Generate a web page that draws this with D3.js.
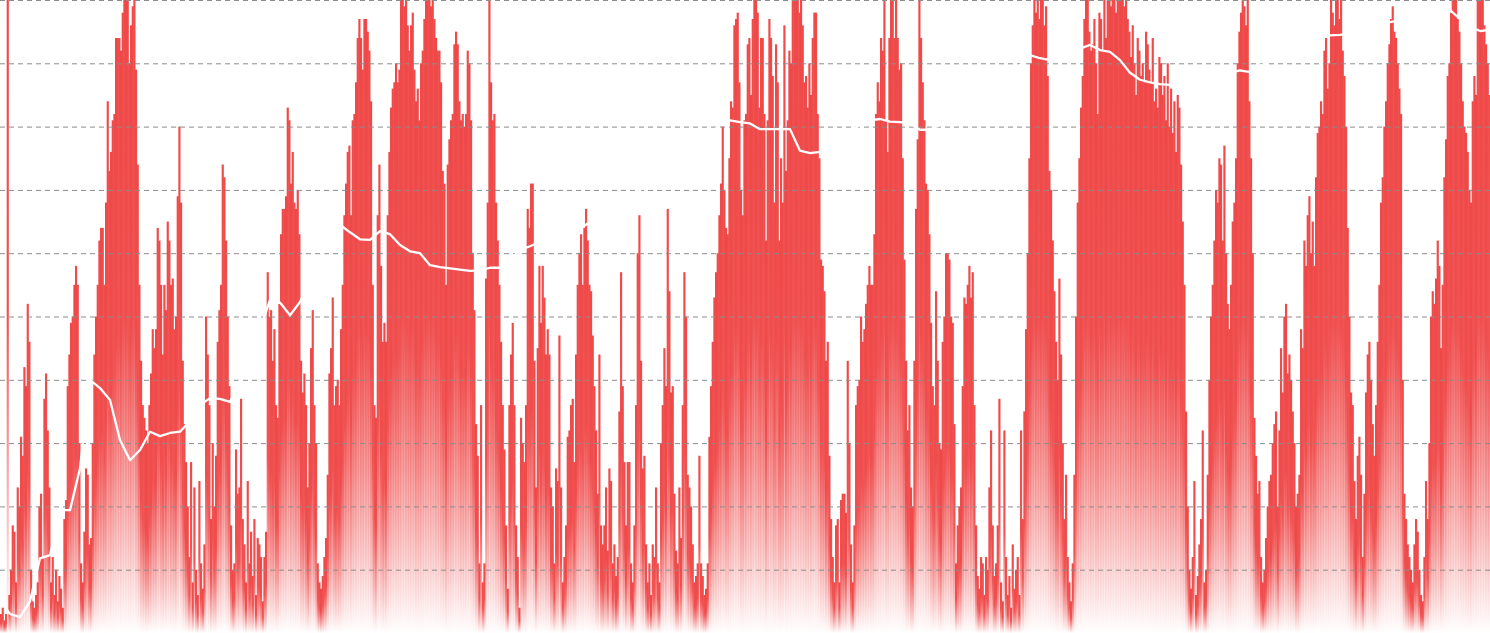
<!DOCTYPE html>
<html>
<head>
<meta charset="utf-8">
<script src="https://cdn.jsdelivr.net/npm/d3@7/dist/d3.min.js"></script>
<style>
  html, body { margin: 0; padding: 0; background: #ffffff; overflow: hidden; }
  svg { display: block; }
</style>
</head>
<body>
<svg id="chart" width="1490" height="633"></svg>
<script>
// ---- Data ----
// Bar series (0..100 units, 10 units per gridline)
const barsPart1 = [
  3,4,2,3,100,6,10,17,16,8,
  23,20,31,28,42,39,52,46,10,5,
  4,6,8,20,22,12,37,41,32,23,
  8,12,6,10,5,9,7,4,18,21,
  39,44,49,50,55,58,55,30,11,8,
  16,26,25,14,15,30,44,50,55,62,
  64,64,55,68,84,73,76,81,82,94,
  94,94,92,98,100,100,100,90,96,99,
  100,89,74,55,43,36,34,32,30,36,
  41,48,45,48,64,62,55,44,55,51,
  65,62,55,56,48,50,69,80,68,43,
  33,27,20,12,27,8,23,10,6,24,
  11,7,14,50,44,36,18,30,20,28,
  46,51,55,74,72,62,50,39,17,10,
  11,29,22,23,37,18,14,8,24,11,
  16,9,18,6,15,14,12,5,12,16,
  57,50,51,43,48,36,34,52,63,67,
  67,69,83,81,71,76,68,67,70,63,
  43,38,41,36,23,30,45,51,36,30,
  11,8,7,9,12,15,25,41,45,53,
  36,39,40,36,48,55,66,71,76,77,
  66,81,82,87,94,97,94,89,97,97,
  95,92,84,55,36,34,66,74,58,46,
  49,46,66,76,83,86,87,90,87,89,
  100,100,99,100,96,92,96,98,89,84,
  86,81,90,92,97,100,100,100,99,100,
  97,94,92,92,87,73,71,55,74,78,
  81,82,93,95,93,84,81,82,80,82,
  92,90,81,60,51,33,28,11,36,8,
  11,56,68,100,87,81,82,68,62,55
];
const barsPart2 = [
  46,36,29,17,7,36,44,49,36,17,
  12,4,34,30,27,36,67,64,71,71,
  43,23,45,58,49,58,53,44,48,44,
  23,20,11,26,24,47,23,8,12,17,
  31,32,36,37,27,44,55,60,63,55,
  64,67,62,55,54,47,39,32,22,44,
  17,14,17,23,13,26,24,11,14,9,
  12,35,57,39,27,17,27,27,11,8,
  17,36,60,66,43,26,28,14,8,11,
  6,14,12,23,11,8,30,36,45,39,
  67,54,38,39,22,13,11,23,15,36,
  57,50,25,23,20,14,8,9,11,28,
  11,9,6,7,11,31,39,46,53,57,
  60,66,71,80,70,64,63,75,84,83,
  96,97,98,87,70,66,81,82,93,94,
  85,97,100,100,98,83,94,94,82,62,
  81,97,94,88,68,93,87,62,75,68,
  96,73,81,92,90,100,100,100,100,98,
  100,96,87,88,83,90,85,94,98,98,
  82,75,59,58,54,43,46,28,18,12,
  8,17,18,8,21,22,22,19,43,30,
  14,8,17,36,39,40,50,46,48,52,
  55,58,55,55,63,82,87,84,94,92,
  100,81,76,94,100,100,94,100,94,89,
  90,75,59,43,32,36,23,20,43,67,
  78,100,94,87,81,71,70,63,49,39,
  36,54,43,30,29,46,50,60,60,59,
  50,49,33,11,17,20,23,39,53,52,
  55,58,53,57,36,17,9,7,12,11,
  6,12,10,23,32,17,9,11,17,37
];
const barsPart3 = [
  8,5,32,12,6,9,4,14,7,10,
  12,6,32,18,35,48,60,75,90,96,
  100,98,100,97,100,100,96,99,88,73,
  70,62,54,46,40,56,44,30,18,25,
  12,8,5,11,25,50,68,75,83,88,
  97,100,100,95,92,93,97,90,82,98,
  97,92,100,94,100,100,99,100,100,98,
  100,100,100,100,99,100,97,95,91,96,
  90,85,94,92,88,90,87,95,93,89,
  87,94,84,86,83,91,90,85,88,81,
  90,80,86,79,84,76,85,83,74,65,
  55,35,20,10,7,12,24,6,9,14,
  18,32,8,10,25,40,50,55,62,70,
  68,75,74,62,77,60,52,48,55,65,
  68,75,90,95,98,100,99,96,100,84,
  75,60,34,28,22,24,12,8,10,15,
  20,24,25,30,33,35,20,32,45,38,
  50,52,41,44,40,35,30,20,22,25,
  48,45,62,58,66,69,60,65,58,72,
  79,80,84,82,92,94,86,90,100,98,
  96,100,100,97,100,92,88,80,64,50,
  38,36,24,18,28,31,25,12,22,38,
  44,46,40,33,28,36,46,55,68,72,
  80,84,90,93,97,99,95,94,90,86,
  82,40,22,18,14,12,10,8,14,18,
  16,10,6,5,12,24,18,30,50,54,
  52,56,62,58,45,55,72,78,88,90,
  98,100,100,100,97,95,90,84,80,79,
  76,70,68,84,88,85,100,100,100,100,
  96,93,90,85
];
const barValues = barsPart1.concat(barsPart2, barsPart3);

// White line series, one point every `lineEvery` bars
const lineEvery = 6;
const lineValues = [
  5.2,3.0,2.5,5.0,11.8,12.3,19.4,19.4,26,40,
  38.7,36.8,30.5,27.3,28.9,31.8,31.1,31.6,31.8,33.5,
  36,37.1,37,36.5,40,45,48,52.6,52.2,50.2,
  52.3,55.8,59,62,64.5,63.3,62.2,62.1,63.5,63,
  61.3,60.3,60,58.1,57.8,57.6,57.4,57.2,57.3,57.7,
  57.7,59,60.5,61.1,61.8,62.5,62.9,63.4,63.8,65,
  66,67,68.4,69.2,70,71.2,72.4,73.5,74.7,76,
  77.1,78.5,80.5,81,80.7,80.5,79.6,79.6,79.6,79.6,
  76.2,75.8,76,77.1,78.2,79.2,80.3,81,81.2,80.8,
  80.7,80.5,79.5,79.5,80.3,81.5,82.6,83.8,85,86.2,
  87.4,88.5,89.7,91.3,90.8,90.5,90.5,91.5,92.3,92.9,
  92.1,91.8,90.5,88.5,87.4,87,86.7,86.6,85.8,86,
  86.5,87,87.8,88.5,88.9,88.6,89.5,90.5,91.3,92.1,
  92.8,93.4,94,94.4,94.5,94.7,95.3,95.7,96.1,96.5,
  96.8,97.2,97.6,98,98.4,98.4,97,95.8,95.1,95.3
];

const gridTicks = [10,20,30,40,50,60,70,80,90,100];

// ---- Chart ----
const W = 1490, H = 633;
const svg = d3.select("#chart");

const x = d3.scaleBand()
  .domain(d3.range(barValues.length))
  .range([0, W])
  .padding(0);

const y = d3.scaleLinear().domain([0, 100]).range([H, 0]);
const yLine = d3.scaleLinear().domain([0, 100]).range([H, 0]);
const xLine = d3.scaleLinear().domain([0, barValues.length]).range([0, W]);

const defs = svg.append("defs");
const grad = defs.append("linearGradient")
  .attr("id", "barGrad")
  .attr("x1", 0).attr("y1", 0).attr("x2", 0).attr("y2", 1);
grad.append("stop").attr("offset", "0%").attr("stop-color", "#ef4444").attr("stop-opacity", 0.97);
grad.append("stop").attr("offset", "50%").attr("stop-color", "#ef4444").attr("stop-opacity", 0.92);
grad.append("stop").attr("offset", "100%").attr("stop-color", "#ef4444").attr("stop-opacity", 0.0);

svg.append("g")
  .selectAll("rect")
  .data(barValues)
  .join("rect")
  .attr("x", (d, i) => x(i))
  .attr("y", d => y(d))
  .attr("width", x.bandwidth() + 0.5)
  .attr("height", d => H - y(d))
  .attr("fill", "url(#barGrad)");

// dashed gridlines
const grid = svg.append("g")
  .attr("class", "grid")
  .call(d3.axisLeft(y).tickValues(gridTicks).tickSize(-W).tickFormat(""));
grid.select(".domain").remove();
grid.selectAll(".tick line")
  .attr("stroke", "#8c8c8c")
  .attr("stroke-width", 1)
  .attr("stroke-dasharray", "5,4");

// white line
const line = d3.line()
  .x((d, i) => xLine(i * lineEvery))
  .y(d => yLine(d));
svg.append("path")
  .datum(lineValues)
  .attr("d", line)
  .attr("fill", "none")
  .attr("stroke", "#ffffff")
  .attr("stroke-width", 2.3)
  .attr("stroke-linejoin", "round");
</script>
</body>
</html>
